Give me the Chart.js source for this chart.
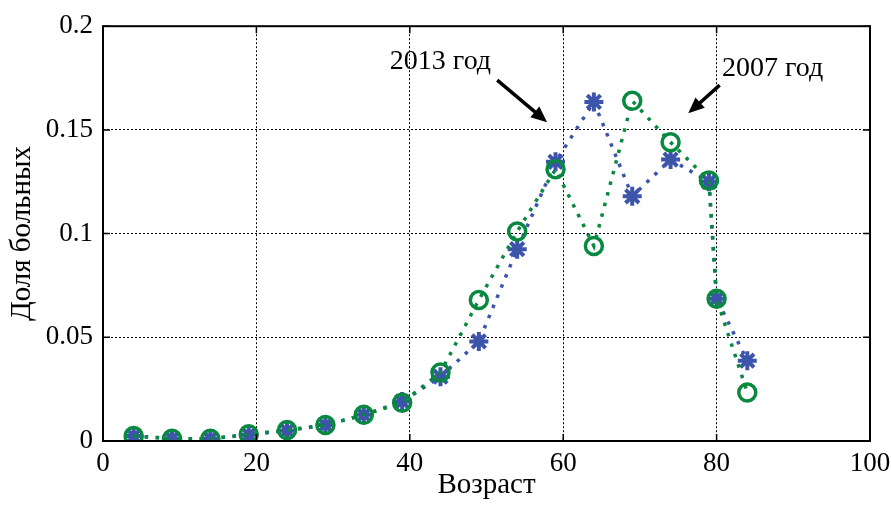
<!DOCTYPE html>
<html>
<head>
<meta charset="utf-8">
<script src="https://cdn.jsdelivr.net/npm/chart.js@4"></script>
<style>
  html,body{margin:0;padding:0;background:#fff;overflow:hidden}
  #wrap{width:891px;height:511px;position:relative}
</style>
</head>
<body>
<div id="wrap"><canvas id="chart"></canvas></div>
<script>
// ages (x) and share of patients per age group
const ages      = [4, 9, 14, 19, 24, 29, 34, 39, 44, 49, 54, 59, 64, 69, 74, 79, 80, 84];
const share2013 = [0.0024, 0.0011, 0.0011, 0.0030, 0.0050, 0.0077, 0.0126, 0.0190, 0.0310, 0.0480, 0.0925, 0.1346, 0.1635, 0.1180, 0.1357, 0.1250, 0.0686, 0.0387];
const share2007 = [0.0024, 0.0011, 0.0011, 0.0032, 0.0053, 0.0077, 0.0126, 0.0185, 0.0330, 0.0680, 0.1010, 0.1310, 0.0940, 0.1640, 0.1440, 0.1256, 0.0686, 0.0234];
const xTickValues = [0, 20, 40, 60, 80, 100];
const yTickValues = [0, 0.05, 0.1, 0.15, 0.2];
const yTickLabels = ["0", "0.05", "0.1", "0.15", "0.2"];

// text + arrow callouts, in data units
const notes = [
  { text: "2013 год", tx: 44.0, ty: 0.1827, x1: 51.4, y1: 0.1740, x2: 57.9, y2: 0.1537 },
  { text: "2007 год", tx: 87.3, ty: 0.1793, x1: 80.4, y1: 0.1716, x2: 76.3, y2: 0.1580 }
];

const FONT = "'Liberation Serif', 'Times New Roman', serif";
const BLUE = "#3c55aa";
const GREEN = "#08893f";

const toPts = (ys)=>ages.map((a,i)=>({x:a, y:ys[i]}));

// frame, inward ticks (matlab style) and callouts
const frameAndNotes = {
  id: "frameAndNotes",
  afterDraw(chart){
    const {ctx, chartArea:a, scales:{x, y}} = chart;
    ctx.save();
    ctx.strokeStyle = "#000";
    ctx.lineWidth = 1.5;
    const tl = 7;
    ctx.beginPath();
    xTickValues.forEach(v=>{
      const px = x.getPixelForValue(v);
      ctx.moveTo(px, a.bottom); ctx.lineTo(px, a.bottom - tl);
      ctx.moveTo(px, a.top); ctx.lineTo(px, a.top + tl);
    });
    yTickValues.forEach(v=>{
      const py = y.getPixelForValue(v);
      ctx.moveTo(a.left, py); ctx.lineTo(a.left + tl, py);
      ctx.moveTo(a.right, py); ctx.lineTo(a.right - tl, py);
    });
    ctx.stroke();
    ctx.lineWidth = 2;
    ctx.strokeRect(a.left, a.top, a.right - a.left, a.bottom - a.top);

    // callouts
    ctx.fillStyle = "#000";
    ctx.font = "28px " + FONT;
    ctx.textAlign = "center";
    ctx.textBaseline = "middle";
    notes.forEach(n=>{
      ctx.fillText(n.text, x.getPixelForValue(n.tx), y.getPixelForValue(n.ty));
      const sx = x.getPixelForValue(n.x1), sy = y.getPixelForValue(n.y1);
      const ex = x.getPixelForValue(n.x2), ey = y.getPixelForValue(n.y2);
      const ang = Math.atan2(ey - sy, ex - sx);
      const hl = 16, hw = 7;
      const bx = ex - hl*Math.cos(ang), by = ey - hl*Math.sin(ang);
      ctx.lineWidth = 3.5;
      ctx.beginPath();
      ctx.moveTo(sx, sy); ctx.lineTo(bx + 2*Math.cos(ang), by + 2*Math.sin(ang));
      ctx.stroke();
      ctx.beginPath();
      ctx.moveTo(ex, ey);
      ctx.lineTo(bx - hw*Math.sin(ang), by + hw*Math.cos(ang));
      ctx.lineTo(bx + hw*Math.sin(ang), by - hw*Math.cos(ang));
      ctx.closePath();
      ctx.fill();
    });
    ctx.restore();
  }
};

new Chart(document.getElementById("chart"), {
  type: "line",
  data: {
    datasets: [
      {
        label: "2007 год",
        data: toPts(share2007),
        borderColor: GREEN,
        backgroundColor: "rgba(0,0,0,0)",
        borderWidth: 3.5,
        borderDash: [3.5, 7.5],
        borderCapStyle: "butt",
        pointStyle: "circle",
        pointRadius: 8.5,
        pointBorderWidth: 3.5,
        pointBorderColor: GREEN,
        pointBackgroundColor: "rgba(0,0,0,0)",
        tension: 0,
        order: 0
      },
      {
        label: "2013 год",
        data: toPts(share2013),
        borderColor: BLUE,
        backgroundColor: BLUE,
        borderWidth: 3.5,
        borderDash: [3.5, 7.5],
        borderCapStyle: "butt",
        pointStyle: "star",
        pointRadius: 9.5,
        pointBorderWidth: 4,
        pointBorderColor: BLUE,
        pointBackgroundColor: BLUE,
        tension: 0,
        order: 1
      }
    ]
  },
  options: {
    responsive: true,
    maintainAspectRatio: false,
    animation: false,
    layout: { padding: { left: 0, top: 26, right: 21, bottom: 0 } },
    plugins: { legend: { display: false }, tooltip: { enabled: false } },
    scales: {
      x: {
        type: "linear",
        min: 0, max: 100,
        afterFit: (s)=>{ s.height = 70; s.paddingRight = 0; s.paddingLeft = 0; },
        afterBuildTicks: (s)=>{ s.ticks = xTickValues.map(v=>({value:v})); },
        ticks: { color: "#000", font: { family: FONT, size: 27 }, padding: 7, maxRotation: 0 },
        grid: { color: "#000", lineWidth: 1, drawTicks: false },
        border: { display: false, dash: [2, 2] },
        title: { display: true, text: "Возраст", color: "#000", font: { family: FONT, size: 29 }, padding: { top: 0, bottom: 8 } }
      },
      y: {
        min: 0, max: 0.2,
        afterFit: (s)=>{ s.width = 103; },
        afterBuildTicks: (s)=>{ s.ticks = yTickValues.map(v=>({value:v})); },
        ticks: {
          color: "#000", font: { family: FONT, size: 27 }, padding: 10,
          callback: (v)=>{ const i = yTickValues.findIndex(t=>Math.abs(t - v) < 1e-9); return i >= 0 ? yTickLabels[i] : ""; }
        },
        grid: { color: "#000", lineWidth: 1, drawTicks: false },
        border: { display: false, dash: [2, 2] },
        title: { display: true, text: "Доля больных", color: "#000", font: { family: FONT, size: 29 }, padding: { top: 5, bottom: 0 } }
      }
    }
  },
  plugins: [frameAndNotes]
});
</script>
</body>
</html>
